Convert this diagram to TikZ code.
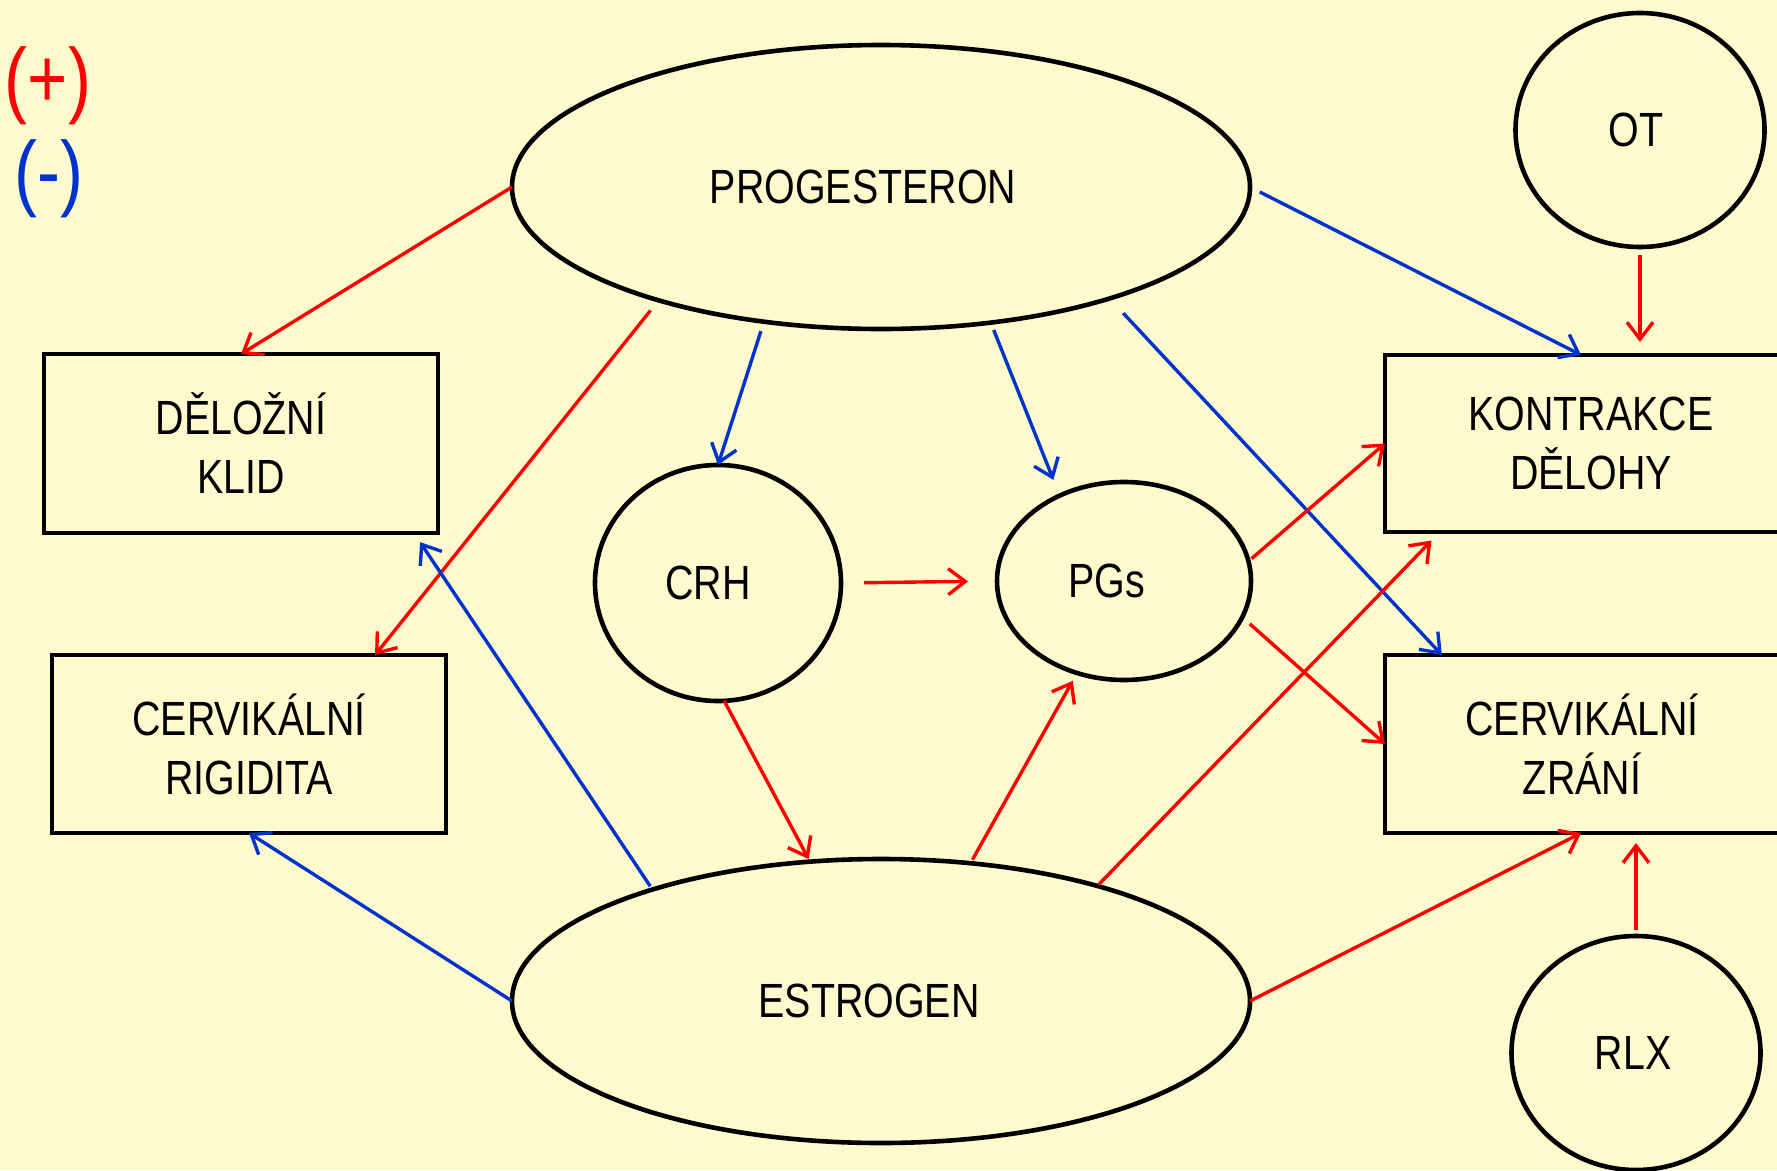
\documentclass[tikz,border=0pt]{standalone}
\usepackage{fontspec}
\setmainfont{Liberation Sans}[FakeStretch=0.82]
\usetikzlibrary{shapes.geometric,arrows.meta,calc}
\definecolor{bg}{RGB}{255,250,205}
\definecolor{plusred}{RGB}{255,0,0}
\definecolor{minusblue}{RGB}{0,51,204}
\begin{document}
\begin{tikzpicture}[x=1pt,y=-1pt,
  every node/.style={font=\fontsize{48}{59}\selectfont, inner sep=0pt, outer sep=0pt},
  oval/.style={ellipse, draw=black, line width=4.6pt},
  box/.style={rectangle, draw=black, line width=4.6pt, align=center},
  link/.style={line width=3.4pt, -{Straight Barb[length=17pt,width=26pt]}},
  redarrow/.style={link, draw=plusred},
  bluearrow/.style={link, draw=minusblue},
  legendtext/.style={font=\fontsize{84}{90}\selectfont, anchor=base}]

\path[use as bounding box, fill=bg] (0,0) rectangle (1777,1170);

% legend
\node[legendtext, text=plusred] (plus) at (48,107) {(+)};
\node[legendtext, text=minusblue] (minus) at (49,200) {(-)};

% main nodes
\node[oval, minimum width=738pt, minimum height=284pt] (prog) at (881,187) {PROGESTERON\hspace*{36pt}};
\node[oval, minimum width=738pt, minimum height=284pt] (estr) at (881,1001) {ESTROGEN\hspace*{24pt}};
\node[oval, minimum width=246pt, minimum height=236pt] (crh) at (718,583) {CRH\hspace*{20pt}};
\node[oval, minimum width=254pt, minimum height=198pt] (pgs) at (1124,581) {PGs\hspace*{34pt}};
\node[oval, minimum width=249pt, minimum height=234pt] (ot) at (1640,130) {OT\hspace*{8pt}};
\node[oval, minimum width=249pt, minimum height=234pt] (rlx) at (1636,1053) {RLX\hspace*{6pt}};

\node[box, minimum width=394pt, minimum height=179pt] (klid) at (241,443.5) {DĚLOŽNÍ\\KLID};
\node[box, minimum width=394pt, minimum height=178pt] (rig) at (249,744) {CERVIKÁLNÍ\\RIGIDITA};
\node[box, minimum width=412pt, minimum height=177pt] (kon) at (1591,443.5) {KONTRAKCE\\DĚLOHY};
\node[box, minimum width=412pt, minimum height=178pt] (zra) at (1591,744) {CERVIKÁLNÍ\hspace*{18pt}\\ZRÁNÍ\hspace*{18pt}};

% connectors from PROGESTERON
\draw[redarrow] (prog.west) -- (klid.north);
\draw[redarrow, shorten <=13pt] (prog.207) -- ($(rig.north west)!0.82!(rig.north east)$);
\draw[bluearrow, shorten <=10pt] (prog.229.5) -- (crh.north);
\draw[bluearrow, shorten <=8pt, shorten >=17pt] (prog.309) -- (pgs.127);
\draw[bluearrow, shorten <=20pt] (prog.334) -- ($(zra.north west)!0.138!(zra.north east)$);
\draw[bluearrow, shorten <=11pt] (prog.east) -- ($(kon.north west)!0.476!(kon.north east)$);

% OT and RLX
\draw[redarrow, shorten <=8pt, shorten >=13pt] (ot.south) -- (ot.south |- kon.north);
\draw[redarrow, shorten <=6pt, shorten >=10pt] (rlx.north) -- (rlx.north |- zra.south);

% CRH and PGs
\draw[redarrow, shorten <=23pt, shorten >=29pt] (crh.east) -- (pgs.west);
\draw[redarrow, shorten >=3pt] (crh.-87) -- (estr.117.5);
\draw[redarrow, shorten <=4pt] (pgs.9) -- (kon.west);
\draw[redarrow, shorten <=10pt] (pgs.-17) -- (zra.west);

% connectors from ESTROGEN
\draw[redarrow, shorten <=4pt, shorten >=9pt] (estr.57.5) -- (pgs.243);
\draw[redarrow, shorten <=2pt, shorten >=12pt] (estr.28) -- ($(kon.south west)!0.133!(kon.south east)$);
\draw[redarrow] (estr.east) -- ($(zra.south west)!0.476!(zra.south east)$);
\draw[bluearrow, shorten <=4pt, shorten >=11pt] (estr.154) -- ($(klid.south west)!0.939!(klid.south east)$);
\draw[bluearrow] (estr.west) -- (rig.south);
\end{tikzpicture}
\end{document}
